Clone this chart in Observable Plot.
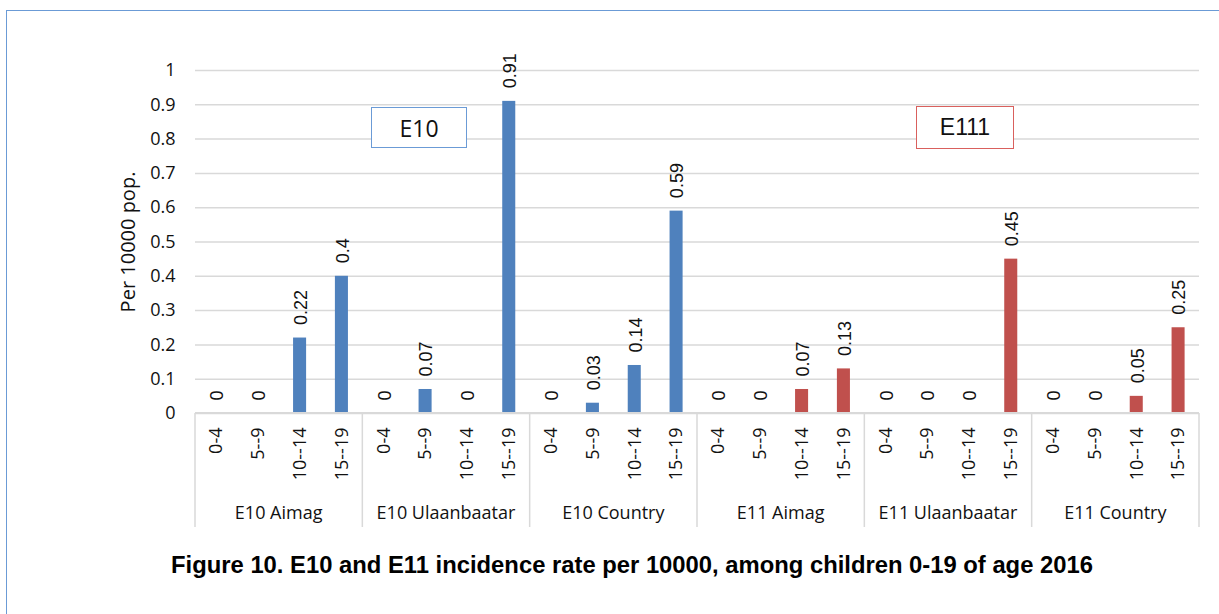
<!DOCTYPE html>
<html>
<head>
<meta charset="utf-8">
<script src="https://cdn.jsdelivr.net/npm/d3@7"></script>
<script src="https://cdn.jsdelivr.net/npm/@observablehq/plot@0.6"></script>
<style>
  html, body { margin: 0; padding: 0; background: #fff; overflow: hidden; }
  #page { position: relative; width: 1219px; height: 614px; overflow: hidden; }
  #frame { position: absolute; left: 6px; top: 10px; width: 1400px; height: 800px;
           border: 1px solid #6b9bd6; box-sizing: border-box; }
  #chart { position: absolute; left: 0; top: 0; }
  #chart svg [aria-label="y-axis label"] text { font-size: 20px; }
  .tag { position: absolute; box-sizing: border-box; background: #fff;
         display: flex; align-items: center; justify-content: center; color: #111; }
  #tag-e10 { left: 371px; top: 107px; width: 96px; height: 41px; border: 1px solid #6b9bd6;
             font: 23px "Open Sans", sans-serif; }
  #tag-e11 { left: 916px; top: 106px; width: 98px; height: 43px; border: 1px solid #d9605d;
             font: 23px "Liberation Sans", Arial, sans-serif; }
  #caption { position: absolute; left: 0; width: 1264px; top: 551px; text-align: center;
             font: bold 23.8px "Liberation Sans", Arial, sans-serif; color: #000; white-space: nowrap; }
</style>
</head>
<body>
<div id="page">
  <div id="frame"></div>
  <div id="chart"></div>
  <div class="tag" id="tag-e10">E10</div>
  <div class="tag" id="tag-e11">E111</div>
  <div id="caption">Figure 10. E10 and E11 incidence rate per 10000, among children 0-19 of age 2016</div>
</div>
<script>
// Region groups along the x axis and the age bands within each group
const groups = ["E10 Aimag", "E10 Ulaanbaatar", "E10 Country", "E11 Aimag", "E11 Ulaanbaatar", "E11 Country"];
const ages = ["0-4", "5--9", "10--14", "15--19"];

// Incidence rate per 10000 population, one value per age band
const e10Aimag       = [0, 0, 0.22, 0.4];
const e10Ulaanbaatar = [0, 0.07, 0, 0.91];
const e10Country     = [0, 0.03, 0.14, 0.59];
const e11Aimag       = [0, 0, 0.07, 0.13];
const e11Ulaanbaatar = [0, 0, 0, 0.45];
const e11Country     = [0, 0, 0.05, 0.25];

const yTicks = [0, 0.1, 0.2, 0.3, 0.4, 0.5, 0.6, 0.7, 0.8, 0.9, 1];
const diseases = ["E10", "E11"];
const diseaseColors = ["#4f81bd", "#c0504d"];

const seriesByGroup = [e10Aimag, e10Ulaanbaatar, e10Country, e11Aimag, e11Ulaanbaatar, e11Country];
const keyOf = (group, age) => `${group}|${age}`;
const keys = groups.flatMap(g => ages.map(a => keyOf(g, a)));
const rows = groups.flatMap((g, gi) => ages.map((a, ai) => ({
  group: g, age: a, key: keyOf(g, a), disease: g.slice(0, 3), value: seriesByGroup[gi][ai]
})));

const height = 540;
const marginBottom = 127;
const gridColor = "#d9d9d9";

const chart = Plot.plot({
  width: 1219,
  height,
  marginTop: 70,
  marginRight: 20,
  marginBottom,
  marginLeft: 195,
  style: { fontFamily: "'Open Sans', sans-serif", fontSize: "18px", color: "#111", background: "transparent", overflow: "visible" },
  x: { domain: keys, padding: 0, round: false, label: null },
  y: { domain: [0, 1], label: null },
  color: { domain: diseases, range: diseaseColors },
  marks: [
    Plot.gridY(yTicks, { stroke: gridColor, strokeOpacity: 1, strokeWidth: 1.5 }),
    Plot.axisY(yTicks, {
      tickSize: 0, tickPadding: 20, fontSize: 18,
      tickFormat: d => String(d),
      label: "Per 10000 pop.", labelAnchor: "center", labelArrow: "none", labelOffset: 75
    }),
    Plot.barY(rows, { x: "key", y: "value", fill: "disease", insetLeft: 14.4, insetRight: 14.4 }),
    Plot.text(rows, {
      x: "key", y: "value", text: d => String(d.value),
      rotate: -90, textAnchor: "start", dx: 1, dy: -13,
      fontFamily: "'Liberation Sans', Arial, sans-serif", fontSize: 18, fill: "#111"
    }),
    Plot.axisX({
      tickSize: 0, tickPadding: 14, tickRotate: -90, fontSize: 18,
      tickFormat: k => k.split("|")[1], label: null
    })
  ]
});

document.getElementById("chart").append(chart);

// Category separators and group names beneath the age labels, positioned from the x scale
const xs = chart.scale("x");
const baseY = height - marginBottom;
const svg = d3.select(chart);
const layer = svg.append("g");
const edges = groups.map(g => xs.apply(keyOf(g, ages[0])));
edges.push(xs.apply(keys[keys.length - 1]) + xs.bandwidth);

layer.append("line")
  .attr("x1", edges[0]).attr("x2", edges[edges.length - 1])
  .attr("y1", baseY).attr("y2", baseY)
  .attr("stroke", gridColor).attr("stroke-width", 2);

layer.selectAll("line.sep").data(edges).join("line")
  .attr("class", "sep")
  .attr("x1", d => d).attr("x2", d => d)
  .attr("y1", baseY).attr("y2", baseY + 114)
  .attr("stroke", gridColor).attr("stroke-width", 1.5);

layer.selectAll("text.grp").data(groups).join("text")
  .attr("class", "grp")
  .attr("x", g => xs.apply(keyOf(g, ages[2])))
  .attr("y", baseY + 100)
  .attr("dy", "0.35em")
  .attr("text-anchor", "middle")
  .attr("font-size", 18)
  .attr("fill", "#111")
  .text(g => g);
</script>
</body>
</html>
